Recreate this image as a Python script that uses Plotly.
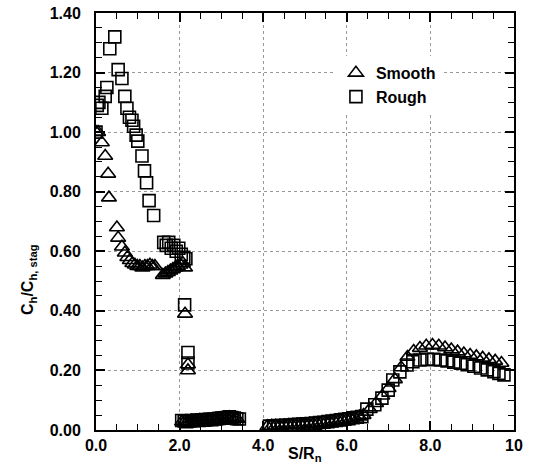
import plotly.graph_objects as go

# ---- data ----
smooth_x = [0.00, 0.05, 0.14, 0.22, 0.29, 0.31, 0.50, 0.53, 0.62, 0.69, 0.75, 0.81, 0.87, 0.93,
            0.99, 1.05, 1.11, 1.17, 1.23, 1.29, 1.35, 1.41,
            1.60, 1.66, 1.72, 1.78, 1.84, 1.90, 1.96, 2.02, 2.08, 2.13, 2.13, 2.20, 2.20,
            2.06, 2.12, 2.18, 2.24, 2.30, 2.36, 2.42, 2.48, 2.54, 2.60, 2.66, 2.72, 2.78, 2.84,
            2.90, 2.96, 3.02, 3.08, 3.14, 3.20, 3.26, 3.32, 3.38,
            4.10, 4.20, 4.30, 4.40, 4.50, 4.60, 4.70, 4.80, 4.90, 5.00, 5.10, 5.20, 5.30, 5.40,
            5.50, 5.60, 5.70, 5.80, 5.90, 6.00, 6.10, 6.20, 6.30,
            6.40, 6.55, 6.70, 6.85, 7.00, 7.15, 7.30, 7.45, 7.60, 7.75, 7.90, 8.05, 8.20, 8.35,
            8.50, 8.65, 8.80, 8.95, 9.10, 9.25, 9.40, 9.55, 9.70]
smooth_y = [1.00, 1.00, 0.965, 0.92, 0.86, 0.78, 0.68, 0.645, 0.615, 0.595, 0.58, 0.57, 0.56, 0.555,
            0.55, 0.55, 0.545, 0.55, 0.55, 0.555, 0.55, 0.55,
            0.52, 0.525, 0.53, 0.535, 0.54, 0.545, 0.55, 0.555, 0.56, 0.545, 0.39, 0.22, 0.20,
            0.028, 0.028, 0.026, 0.028, 0.030, 0.028, 0.031, 0.033, 0.031, 0.033, 0.034, 0.033, 0.036, 0.035,
            0.037, 0.038, 0.039, 0.040, 0.041, 0.043, 0.041, 0.039, 0.037,
            0.012, 0.013, 0.014, 0.014, 0.015, 0.016, 0.016, 0.017, 0.018, 0.019, 0.020, 0.021, 0.022, 0.024,
            0.026, 0.027, 0.029, 0.031, 0.033, 0.035, 0.038, 0.041, 0.045,
            0.05, 0.07, 0.09, 0.115, 0.14, 0.17, 0.21, 0.245, 0.265, 0.275, 0.283, 0.285, 0.283, 0.277,
            0.27, 0.263, 0.257, 0.252, 0.247, 0.242, 0.237, 0.232, 0.225]

rough_x = [0.00, 0.03, 0.07, 0.14, 0.22, 0.26, 0.33, 0.45, 0.53, 0.62, 0.69, 0.74, 0.80, 0.86,
           0.90, 0.96, 1.00, 1.10, 1.16, 1.21, 1.27, 1.38,
           1.62, 1.68, 1.74, 1.80, 1.86, 1.92, 1.98, 2.04, 2.10, 2.15, 2.12, 2.20, 2.20,
           2.05, 2.11, 2.17, 2.23, 2.29, 2.35, 2.41, 2.47, 2.53, 2.59, 2.65, 2.71, 2.77, 2.83,
           2.89, 2.95, 3.01, 3.07, 3.13, 3.19, 3.25, 3.31, 3.37, 3.43,
           4.15, 4.25, 4.35, 4.45, 4.55, 4.65, 4.75, 4.85, 4.95, 5.05, 5.15, 5.25, 5.35, 5.45,
           5.55, 5.65, 5.75, 5.85, 5.95, 6.05, 6.15, 6.25,
           6.36, 6.48, 6.67, 6.84, 6.99, 7.10, 7.27, 7.44, 7.58, 7.75, 7.92, 8.08, 8.24, 8.40,
           8.56, 8.72, 8.88, 9.04, 9.20, 9.36, 9.52, 9.64, 9.76]
rough_y = [1.00, 1.09, 1.10, 1.08, 1.12, 1.15, 1.28, 1.32, 1.21, 1.18, 1.12, 1.08, 1.05, 1.04,
           1.02, 0.99, 0.97, 0.92, 0.87, 0.83, 0.77, 0.72,
           0.63, 0.62, 0.63, 0.61, 0.62, 0.60, 0.61, 0.59, 0.58, 0.575, 0.42, 0.26, 0.225,
           0.032, 0.030, 0.028, 0.030, 0.032, 0.031, 0.033, 0.032, 0.034, 0.033, 0.035, 0.036, 0.035, 0.037,
           0.038, 0.039, 0.040, 0.041, 0.042, 0.044, 0.042, 0.040, 0.038, 0.037,
           0.013, 0.014, 0.015, 0.015, 0.016, 0.017, 0.018, 0.019, 0.020, 0.021, 0.022, 0.023, 0.025, 0.026,
           0.028, 0.030, 0.032, 0.034, 0.036, 0.038, 0.041, 0.043,
           0.045, 0.07, 0.085, 0.107, 0.134, 0.168, 0.195, 0.218, 0.229, 0.235, 0.237, 0.237, 0.235, 0.232,
           0.228, 0.224, 0.219, 0.214, 0.208, 0.202, 0.196, 0.190, 0.185]

x_tickvals = [0, 2, 4, 6, 8, 10]
x_ticktext = ["0.0", "2.0", "4.0", "6.0", "8.0", "10"]
y_tickvals = [0.0, 0.2, 0.4, 0.6, 0.8, 1.0, 1.2, 1.4]
y_ticktext = ["0.00", "0.20", "0.40", "0.60", "0.80", "1.00", "1.20", "1.40"]

FONT = "Liberation Sans"

fig = go.Figure()
fig.add_trace(go.Scatter(x=smooth_x, y=smooth_y, mode="markers", name="<b>Smooth</b>",
                         marker=dict(symbol="triangle-up-open", size=13, color="black",
                                     line=dict(width=1.6, color="black"))))
fig.add_trace(go.Scatter(x=rough_x, y=rough_y, mode="markers", name="<b>Rough</b>",
                         marker=dict(symbol="square-open", size=12, color="black",
                                     line=dict(width=1.6, color="black"))))

axis_common = dict(
    showline=True, linecolor="black", linewidth=2, mirror="allticks",
    ticks="inside", ticklen=9, tickwidth=1.5, tickcolor="black",
    showgrid=True, gridcolor="#999", griddash="dot", gridwidth=1,
    zeroline=False, automargin=False,
    tickfont=dict(family=FONT, size=16, color="black", weight="bold"),
)

fig.update_xaxes(range=[0, 10], tickvals=x_tickvals, ticktext=x_ticktext,
                 minor=dict(dtick=0.5, ticks="inside", ticklen=6, tickwidth=1.2,
                            tickcolor="black", showgrid=False),
                 **axis_common)
fig.update_yaxes(range=[0, 1.4], tickvals=y_tickvals, ticktext=y_ticktext,
                 minor=dict(dtick=0.05, ticks="inside", ticklen=6, tickwidth=1.2,
                            tickcolor="black", showgrid=False),
                 ticklabelstandoff=10,
                 **axis_common)

fig.update_layout(
    template="none",
    width=533, height=468,
    margin=dict(l=96, r=19, t=13, b=38),
    paper_bgcolor="white", plot_bgcolor="white",
    font=dict(family=FONT, color="black"),
    showlegend=True,
    legend=dict(x=0.574, y=0.897, xanchor="left", yanchor="top",
                bgcolor="white", borderwidth=0,
                font=dict(family=FONT, size=16, color="black"),
                itemwidth=30, tracegroupgap=0),
    annotations=[
        dict(text="<b>S/R<sub>n</sub></b>", xref="paper", yref="paper",
             x=0.5, y=-0.032, xanchor="center", yanchor="top", showarrow=False,
             font=dict(family=FONT, size=16, color="black")),
        dict(text="<b>C<sub>h</sub>/C<sub>h, stag</sub></b>", xref="paper", yref="paper",
             x=-0.16, y=0.36, xanchor="center", yanchor="middle", textangle=-90,
             showarrow=False, font=dict(family=FONT, size=16, color="black")),
    ],
)

fig.write_html("out.html")
